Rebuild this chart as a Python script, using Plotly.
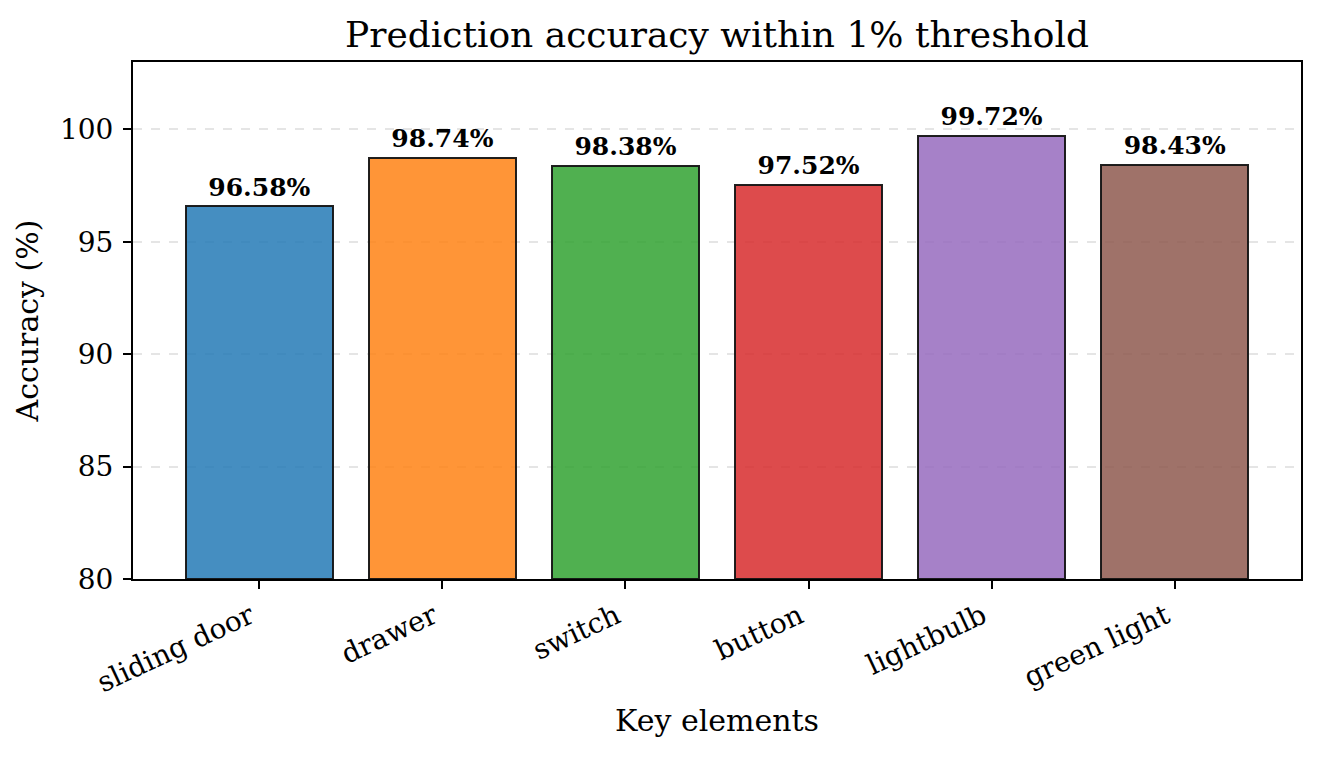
import plotly.graph_objects as go

categories = ["sliding door", "drawer", "switch", "button", "lightbulb", "green light"]
accuracy = [96.58, 98.74, 98.38, 97.52, 99.72, 98.43]
colors = ["#1f77b4", "#ff7f0e", "#2ca02c", "#d62728", "#9467bd", "#8c564b"]
y_ticks = [80, 85, 90, 95, 100]


def rgba(hex_color, alpha):
    h = hex_color.lstrip("#")
    r, g, b = (int(h[i:i + 2], 16) for i in (0, 2, 4))
    return f"rgba({r},{g},{b},{alpha})"


font = "DejaVu Serif"
xs = list(range(len(categories)))

fig = go.Figure()
fig.add_trace(go.Bar(
    x=xs,
    y=[a - 80 for a in accuracy],
    base=80,
    width=0.8,
    marker=dict(color=[rgba(c, 0.83) for c in colors],
                line=dict(color="rgba(20,20,20,0.95)", width=2)),
    showlegend=False,
    hoverinfo="skip",
))
# value labels above the bars
fig.add_trace(go.Scatter(
    x=xs,
    y=[a + 0.2 for a in accuracy],
    mode="text",
    text=[f"<b>{a:.2f}%</b>" for a in accuracy],
    textposition="top center",
    textfont=dict(family=font, size=25, color="black"),
    showlegend=False,
    hoverinfo="skip",
    cliponaxis=False,
))

fig.update_layout(
    width=1320,
    height=760,
    margin=dict(l=125, r=27, t=54, b=189),
    paper_bgcolor="white",
    plot_bgcolor="white",
    font=dict(family=font, color="black"),
    title=dict(text="Prediction accuracy within 1% threshold", x=0.5, xref="paper",
               xanchor="center", y=0.965, yanchor="middle",
               font=dict(family=font, size=36)),
    bargap=0,
)
fig.update_xaxes(
    range=[-0.69, 5.69],
    tickvals=xs,
    ticktext=categories,
    tickangle=-25,
    tickfont=dict(size=28),
    ticklabelshift=-9,
    ticks="outside", ticklen=8, tickwidth=1.5, tickcolor="black",
    showline=True, linecolor="black", linewidth=2, mirror=True,
    showgrid=False, zeroline=False,
    title=dict(text="Key elements", font=dict(size=30), standoff=12),
)
fig.update_yaxes(
    range=[80, 103],
    tickvals=y_ticks,
    tickfont=dict(size=28),
    ticklabelstandoff=4,
    ticks="outside", ticklen=8, tickwidth=1.5, tickcolor="black",
    showline=True, linecolor="black", linewidth=2, mirror=True,
    showgrid=True, gridcolor="rgba(0,0,0,0.1)", griddash="dash", gridwidth=1.5,
    zeroline=False,
    title=dict(text="Accuracy (%)", font=dict(size=30), standoff=12),
)

fig.write_html("out.html")
